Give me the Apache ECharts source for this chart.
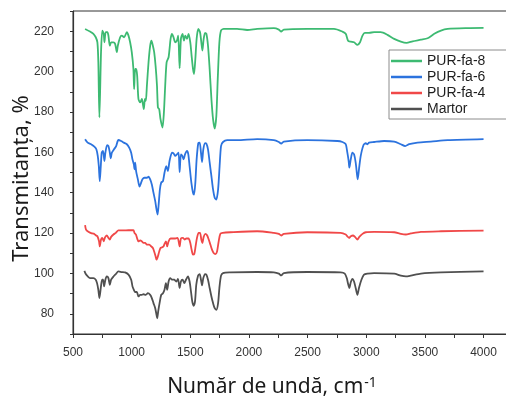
<!DOCTYPE html>
<html>
<head>
<meta charset="utf-8">
<script src="https://cdn.jsdelivr.net/npm/echarts@6/dist/echarts.min.js"></script>
<style>
  html, body { margin: 0; padding: 0; background: #ffffff; }
  #chart { width: 506px; height: 398px; }
</style>
</head>
<body>
<div id="chart"></div>
<script>
// FTIR spectra: [wavenumber (cm-1), transmittance (%)] for each sample (curves are offset vertically)
const seriesNames = ['PUR-fa-8', 'PUR-fa-6', 'PUR-fa-4', 'Martor'];

const pur8 = [[603,221.1],[645,219.8],[674,218.7],[694,217],[708,214.5],[716,204.7],[725,177.3],[739,209.7],[750,220.3],[762,218.7],[768,214.5],[779,219.5],[793,219.5],[802,217.8],[814,212.8],[825,214.5],[845,214.5],[859,213.7],[874,209.6],[882,212.8],[902,217],[916,217.8],[936,217],[959,219.5],[973,217.8],[987,214.5],[1001,209.6],[1015,201.3],[1021,191.3],[1030,201.3],[1038,201.3],[1047,198],[1058,186.4],[1073,184.7],[1087,186.4],[1096,183.9],[1104,181.4],[1113,186.4],[1121,185.5],[1130,193],[1144,204.6],[1158,212.8],[1169,215.3],[1181,212.8],[1192,209.6],[1204,202.9],[1216,193],[1224,182.2],[1235,181.4],[1246,176.4],[1263,172.3],[1275,179.7],[1286,193],[1298,204.6],[1315,207.1],[1332,216.2],[1344,218.7],[1357,217],[1372,214.5],[1386,215.3],[1397,217.8],[1409,201.6],[1420,216.2],[1434,218.7],[1446,215.3],[1457,217.8],[1472,216.2],[1485,218.7],[1500,214.5],[1511,207.9],[1523,201.3],[1532,198.8],[1543,206.2],[1554,216.2],[1568,221.1],[1583,219.5],[1594,214.5],[1603,210.4],[1614,216.2],[1626,219.2],[1637,218.7],[1651,212.8],[1665,201.3],[1680,186.4],[1694,176.4],[1708,171.8],[1722,178],[1734,196.3],[1748,214.5],[1762,220.3],[1785,221.1],[1899,221.1],[1985,220.6],[2070,221.1],[2212,221.5],[2255,220.8],[2275,219.8],[2297,220.8],[2497,221.1],[2725,221.1],[2797,219.8],[2825,218.7],[2845,215.3],[2868,214.8],[2896,214.5],[2925,213.2],[2947,214.5],[2968,217.8],[2988,219.2],[3024,219.2],[3067,219.5],[3124,219.5],[3181,218.2],[3238,216.2],[3295,214.8],[3343,214.2],[3395,215],[3466,215.8],[3523,216.5],[3580,218.7],[3637,220.3],[3694,221.1],[3865,221.5],[4000,221.6]];

const pur6 = [[603,166.5],[625,164.8],[654,164],[682,162.8],[699,161.5],[711,158.2],[720,153.2],[728,145.7],[737,153.2],[745,159.8],[756,160.7],[768,155.7],[776,159.8],[791,163.6],[802,163.1],[814,159.8],[822,157],[831,159.8],[850,161.5],[868,163.1],[887,166.1],[910,165.6],[933,164.8],[959,164],[979,162.3],[996,159.8],[1007,156.5],[1019,154],[1024,151.6],[1030,154.9],[1038,150.7],[1053,146.6],[1067,143],[1081,145],[1092,146.6],[1109,147.4],[1130,147.4],[1144,147.9],[1158,146.6],[1172,144.1],[1186,140],[1201,135.8],[1212,131.7],[1221,129.2],[1229,133.3],[1241,141.6],[1252,145],[1267,145.7],[1280,149.9],[1295,153.2],[1309,150.7],[1323,155.7],[1344,159.8],[1357,159.5],[1372,158.2],[1386,159],[1400,159.8],[1409,150.2],[1420,159],[1432,158.2],[1443,156.5],[1455,159],[1472,160.7],[1483,159],[1494,153.2],[1509,145],[1523,140],[1532,139.1],[1543,145],[1554,156.5],[1568,164.5],[1580,164.8],[1591,159.8],[1600,155.2],[1611,161.5],[1626,164.5],[1637,164.3],[1651,161.5],[1665,155],[1680,148.2],[1694,141.6],[1708,137.5],[1722,136.6],[1737,141.6],[1750,153.2],[1762,163.1],[1779,165.1],[1814,166],[1899,166],[2070,166.5],[2212,166],[2255,165.1],[2275,164.3],[2297,165.3],[2497,166],[2754,165.6],[2797,165.1],[2825,164],[2839,159.8],[2850,155.7],[2856,152.4],[2868,156.5],[2882,159.8],[2896,159],[2910,154.9],[2921,149.1],[2927,146.6],[2938,151.6],[2953,158.2],[2976,163.5],[2996,164.5],[3010,164],[3024,164.8],[3067,165.1],[3152,165.6],[3238,165.3],[3295,164],[3332,163.1],[3366,164],[3437,164.8],[3551,165.3],[3694,166],[4000,166.5]];

const pur4 = [[603,123.9],[611,121.7],[631,120.6],[654,120],[677,119.7],[694,118.9],[708,118.4],[722,115.9],[728,113.4],[739,116.8],[750,117.6],[762,115.9],[773,117.9],[788,118.9],[802,117.6],[814,116.8],[825,118.1],[845,119.3],[865,120.1],[887,121.3],[930,121.3],[973,121.4],[1015,121.4],[1024,120.1],[1036,119.3],[1047,117.3],[1058,115.9],[1073,116.4],[1087,115.9],[1101,115.1],[1115,115.1],[1130,114.3],[1150,114.3],[1167,113.4],[1181,112.6],[1192,110.9],[1204,108.5],[1212,106.8],[1224,108.5],[1235,110.9],[1246,112.6],[1258,112.9],[1272,113.4],[1280,114.6],[1292,115.9],[1303,113.4],[1315,115.9],[1332,117.3],[1344,117.3],[1372,117.3],[1392,117.6],[1409,113.4],[1420,117.3],[1437,117.6],[1452,116.8],[1466,117.3],[1485,117.3],[1500,115.1],[1511,111.8],[1523,109.3],[1534,109.6],[1545,113.4],[1557,117.6],[1571,120.1],[1583,120.1],[1594,116.8],[1603,115.1],[1614,118.1],[1628,119.6],[1643,118.9],[1657,116.8],[1671,114.3],[1685,111.8],[1699,110.1],[1714,109.6],[1728,110.9],[1742,115.9],[1756,119.6],[1776,120.1],[1842,120.4],[2070,120.9],[2212,120.1],[2255,119.6],[2275,118.8],[2297,119.6],[2497,120.4],[2782,120.1],[2825,119.3],[2839,118.4],[2853,117.6],[2868,118.4],[2887,118.8],[2904,118.1],[2925,116.8],[2941,118.1],[2968,119.6],[2996,120.4],[3067,120.6],[3238,120.4],[3295,119.6],[3338,119.3],[3380,119.8],[3466,120.6],[3637,120.9],[4000,121.2]];

const martor = [[597,101.3],[609,99.7],[626,98.5],[645,97.7],[674,97.7],[694,96.9],[705,95.2],[716,91.9],[725,87.8],[737,92.8],[748,96.9],[756,96.9],[765,93.6],[776,96.9],[788,98.5],[802,97.7],[814,94.4],[825,96.9],[845,98.5],[865,99.7],[887,101],[916,100.7],[944,100.5],[973,99.4],[996,96.9],[1007,93.6],[1019,91.9],[1030,90.8],[1044,90.8],[1058,88.6],[1073,89.4],[1087,89.4],[1101,89.7],[1121,89.4],[1138,90.2],[1158,89.4],[1172,87.8],[1186,85.3],[1201,82.8],[1212,79.5],[1218,77.8],[1226,81.1],[1238,85.3],[1252,89.4],[1267,90.2],[1280,91.9],[1292,95.2],[1303,91.9],[1315,96],[1329,97.7],[1344,96.9],[1363,96.9],[1380,96],[1395,97.3],[1409,92.8],[1420,96],[1434,96.9],[1449,95.2],[1463,96.9],[1480,98.5],[1494,96],[1506,91],[1517,86],[1528,84],[1540,86],[1551,94.4],[1566,98.9],[1580,99.7],[1591,96.9],[1600,94.1],[1611,97.7],[1626,99.7],[1637,99.4],[1651,96.9],[1665,92.8],[1680,88.6],[1694,85.3],[1708,82.8],[1722,82],[1737,85.3],[1748,92.8],[1762,98.9],[1779,100.2],[1842,100.5],[2070,100.7],[2212,100.5],[2255,99.9],[2275,99],[2297,100.2],[2497,100.7],[2782,100.5],[2817,99.9],[2834,97.7],[2845,94.9],[2856,92.8],[2868,95.6],[2882,97.3],[2896,96],[2910,92.8],[2925,89.4],[2938,92.8],[2959,96.9],[2981,99.4],[3010,99.9],[3067,100.2],[3238,99.9],[3295,98.9],[3338,98.5],[3380,98.9],[3466,99.9],[3637,100.5],[4000,101]];

const seriesData = [pur8, pur6, pur4, martor];
const seriesColors = ['#3dba72', '#2c73de', '#f04848', '#505050'];

const xTickLabels = [500, 1000, 1500, 2000, 2500, 3000, 3500, 4000];
const yTickLabels = [80, 100, 120, 140, 160, 180, 200, 220];

const chart = echarts.init(document.getElementById('chart'), null, { renderer: 'canvas' });

const axisColor = '#333333';
const labelFont = 'Liberation Sans, Arial, sans-serif';
const nameFont = 'Noto Sans, Open Sans, sans-serif';

chart.setOption({
  animation: false,
  backgroundColor: '#ffffff',
  grid: {
    left: 73, right: -1, top: 11, bottom: 64,
    outerBoundsMode: 'none', containLabel: false,
    show: true, borderColor: axisColor, borderWidth: 1
  },
  legend: {
    data: seriesNames,
    left: 389,
    top: 50,
    orient: 'vertical',
    icon: 'rect',
    itemWidth: 31,
    itemHeight: 2.5,
    itemGap: 2,
    padding: [4, 30, 3, 2],
    borderColor: '#8c8c8c',
    borderWidth: 1,
    backgroundColor: '#ffffff',
    textStyle: { fontFamily: labelFont, fontSize: 14, lineHeight: 14, color: '#1e1e1e' }
  },
  xAxis: {
    type: 'value',
    min: 500,
    max: 4200,
    interval: 250,
    name: 'Număr de undă, cm{sup|-1}',
    nameLocation: 'middle',
    nameGap: 42,
    nameTextStyle: {
      fontFamily: nameFont, fontSize: 21, color: '#1a1a1a', padding: [0, 36, 0, 0],
      rich: { sup: { fontFamily: nameFont, fontSize: 14, color: '#1a1a1a', padding: [0, 0, 9, 1] } }
    },
    axisLine: { show: true, lineStyle: { color: axisColor, width: 1.2 } },
    axisTick: { show: true, length: 4, lineStyle: { color: axisColor } },
    splitLine: { show: false },
    axisLabel: {
      fontFamily: labelFont, fontSize: 12, color: '#333333', margin: 13,
      formatter: v => (xTickLabels.indexOf(v) >= 0 ? String(v) : '')
    }
  },
  yAxis: {
    type: 'value',
    min: 70,
    max: 230,
    interval: 10,
    name: 'Transmitanța, %',
    nameLocation: 'middle',
    nameGap: 40,
    nameMoveOverlap: false,
    nameTextStyle: { fontFamily: nameFont, fontSize: 22, color: '#1a1a1a', padding: [0, 12, 0, 0] },
    axisLine: { show: true, lineStyle: { color: axisColor, width: 1.2 } },
    axisTick: { show: true, length: 3, lineStyle: { color: axisColor } },
    splitLine: { show: false },
    axisLabel: {
      fontFamily: labelFont, fontSize: 12, color: '#333333', margin: 19,
      formatter: v => (yTickLabels.indexOf(v) >= 0 ? String(v) : '')
    }
  },
  series: seriesNames.map((name, i) => ({
    name: name,
    type: 'line',
    data: seriesData[i],
    showSymbol: false,
    symbol: 'none',
    smooth: 0.25,
    lineStyle: { color: seriesColors[i], width: 1.8 },
    itemStyle: { color: seriesColors[i] }
  }))
});
</script>
</body>
</html>
